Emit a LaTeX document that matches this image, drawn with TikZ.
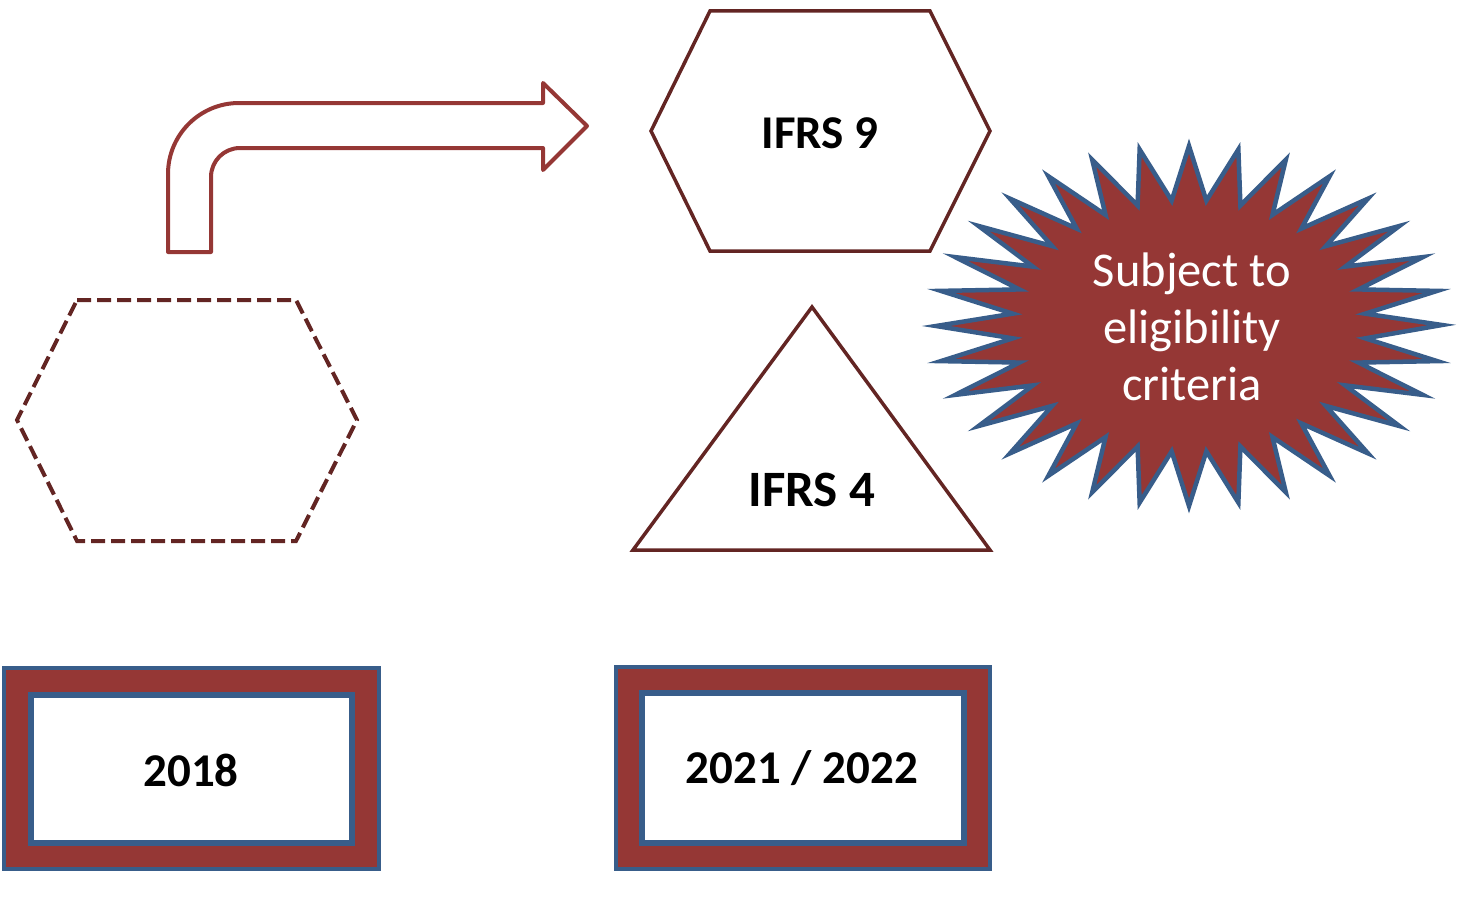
\documentclass[tikz,border=0pt]{standalone}
\usepackage{fontspec}
\setmainfont{Carlito}
\definecolor{darkred}{HTML}{632523}
\definecolor{midred}{HTML}{953735}
\definecolor{ofblue}{HTML}{385D8A}
\tikzset{
  shapeline/.style={draw=darkred, line width=3.5pt, line join=miter},
  dashhex/.style={draw=darkred, line width=4pt, dash pattern=on 14pt off 6pt},
  arrowline/.style={draw=midred, line width=4pt, line join=round},
  burst/.style={draw=ofblue, fill=midred, line width=4.5pt, line join=miter},
  frameout/.style={draw=ofblue, fill=midred, line width=4pt},
  framein/.style={draw=ofblue, fill=white, line width=5.5pt},
  bigtxt/.style={font=\fontsize{47}{56}\selectfont\bfseries, text=black},
  bursttxt/.style={font=\fontsize{48.5}{57}\selectfont, text=white, align=center}
}
\begin{document}
\begin{tikzpicture}[x=1pt,y=-1pt]
\useasboundingbox (0,0) rectangle (1462,899);
% bent arrow
\draw[arrowline] (168,252) -- (168,174) arc[start angle=180, end angle=270, radius=71] -- (543,103) -- (543,83) -- (587,126) -- (543,170) -- (543,148) -- (240,148) arc[start angle=270, end angle=180, radius=29] -- (211,252) -- cycle;
% IFRS 9 hexagon
\draw[shapeline] (710,11) -- (930,11) -- (990,131) -- (930,251) -- (710,251) -- (651,131) -- cycle;
\node[bigtxt] (ifrs9) at (820,133) {IFRS 9};
% dashed hexagon
\draw[dashhex] (77,300) -- (296,300) -- (357,420) -- (296,541) -- (77,541) -- (17,420) -- cycle;
% IFRS 4 triangle
\draw[shapeline] (812,307) -- (990,550) -- (633,550) -- cycle;
\node[bigtxt, font=\fontsize{51}{60}\selectfont\bfseries] (ifrs4) at (812,490) {IFRS 4};
% starburst
\draw[burst] (1442,325) \foreach \i in {1,...,63} { -- ({1189+253*(1-0.3*mod(\i,2))*cos(\i*5.625)}, {326-180*(1-0.3*mod(\i,2))*sin(\i*5.625)}) } -- cycle;
\node[bursttxt] (subj) at (1192,327) {Subject to\\eligibility\\criteria};
% frames
\draw[frameout] (4,668) rectangle (379,869);
\draw[framein] (31,695) rectangle (352,843);
\node[bigtxt] (y2018) at (191,770) {2018};
\draw[frameout] (616,667) rectangle (990,869);
\draw[framein] (642,693) rectangle (964,843);
\node[bigtxt] (y2021) at (802,768) {2021 / 2022};
\end{tikzpicture}
\end{document}
